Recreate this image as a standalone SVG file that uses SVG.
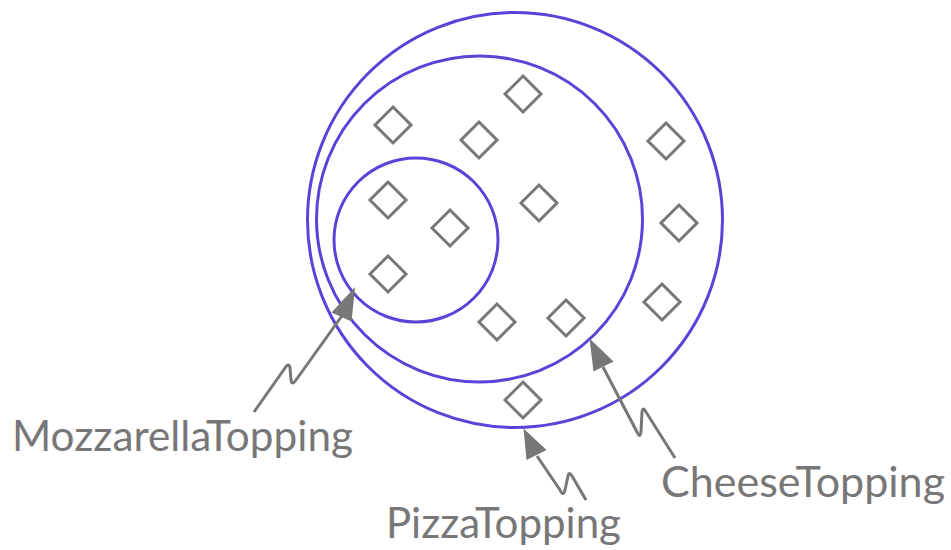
<svg xmlns="http://www.w3.org/2000/svg" width="951" height="550" viewBox="0 0 951 550">
<defs>
<style>
.set{fill:none;stroke:#5a44d8;stroke-width:3}
.ind{fill:none;stroke:#777;stroke-width:3}
.lead{fill:none;stroke:#777;stroke-width:3;stroke-linejoin:round;stroke-linecap:butt}
.head{fill:#777;stroke:none}
.lbl{font-family:Lato,"Open Sans","Liberation Sans",sans-serif;font-size:42px;fill:#777}
</style>
<polygon id="d" points="0,-18 18,0 0,18 -18,0"/>
</defs>
<rect width="951" height="550" fill="#fff"/>
<g id="PizzaTopping"><circle class="set" cx="515" cy="220" r="207.5"/></g>
<g id="CheeseTopping"><circle class="set" cx="479.5" cy="219" r="163"/></g>
<g id="MozzarellaTopping"><circle class="set" cx="416" cy="240" r="82"/></g>
<g id="individuals">
<use href="#d" class="ind" x="393" y="125"/>
<use href="#d" class="ind" x="523" y="94"/>
<use href="#d" class="ind" x="479" y="140"/>
<use href="#d" class="ind" x="666" y="141"/>
<use href="#d" class="ind" x="388" y="200"/>
<use href="#d" class="ind" x="450" y="228"/>
<use href="#d" class="ind" x="539" y="203"/>
<use href="#d" class="ind" x="679" y="223"/>
<use href="#d" class="ind" x="388" y="274"/>
<use href="#d" class="ind" x="497" y="322"/>
<use href="#d" class="ind" x="566" y="318"/>
<use href="#d" class="ind" x="662" y="302"/>
<use href="#d" class="ind" x="523" y="400"/>
</g>
<g id="connectors">
<path class="lead" d="M254,412 L285,368 Q289,362 290,368 L291,380 Q292,386 296,380 L344,313"/>
<polygon class="head" points="355,287 331.5,312.5 351.5,321.5"/>
<path class="lead" d="M675,458 L646,412 Q643,406 642,412 L641,432 Q640,439 637,432 L603,367"/>
<polygon class="head" points="589.5,338.5 593.5,371.5 613.5,361.5"/>
<path class="lead" d="M586,500 L572,476 Q569,471 568,476 L565,490 Q563,497 560,490 L537,456"/>
<polygon class="head" points="523.5,428.5 526.5,460 546.5,450"/>
</g>
<g id="labels">
<text class="lbl" x="12" y="451" textLength="341" lengthAdjust="spacingAndGlyphs">MozzarellaTopping</text>
<text class="lbl" x="386" y="538" textLength="235" lengthAdjust="spacingAndGlyphs">PizzaTopping</text>
<text class="lbl" x="661" y="497" textLength="284" lengthAdjust="spacingAndGlyphs">CheeseTopping</text>
</g>
</svg>
